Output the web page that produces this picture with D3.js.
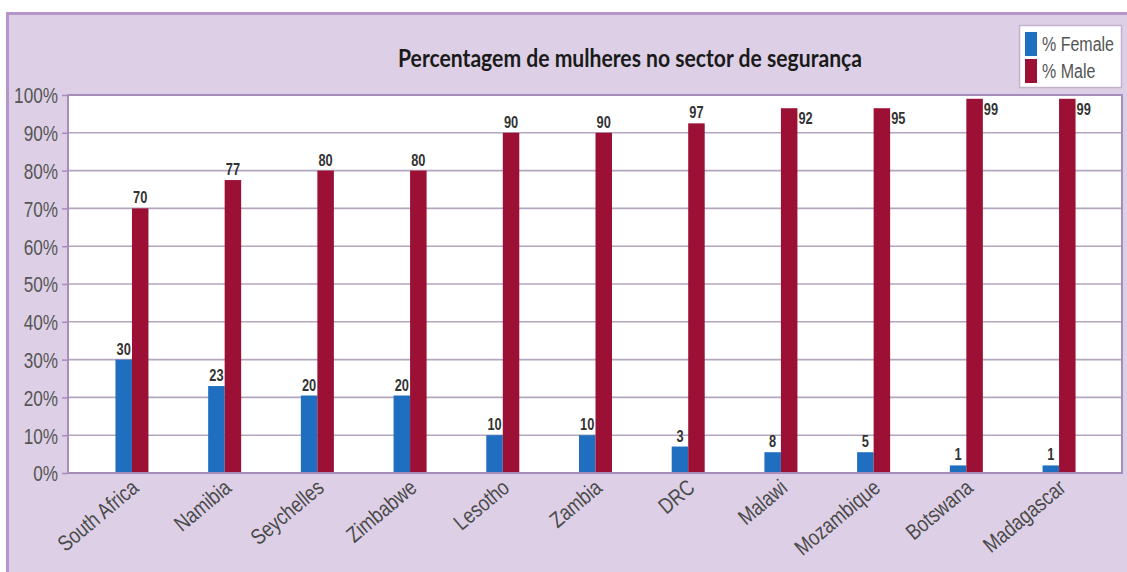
<!DOCTYPE html>
<html>
<head>
<meta charset="utf-8">
<script src="https://cdn.jsdelivr.net/npm/d3@7"></script>
<style>
  html, body { margin: 0; padding: 0; background: #fff; }
  svg { display: block; }
</style>
</head>
<body>
<svg id="chart" width="1127" height="572"></svg>
<script>
const countries = ['South Africa', 'Namibia', 'Seychelles', 'Zimbabwe', 'Lesotho', 'Zambia',
    'DRC', 'Malawi', 'Mozambique', 'Botswana', 'Madagascar'];
// bar heights as drawn in the picture
const femaleValues = [30, 23, 20.5, 20.5, 10, 10, 7, 5.5, 5.5, 2, 2];
const maleValues = [70, 77.5, 80, 80, 90, 90, 92.5, 96.5, 96.5, 99, 99];
// value labels as printed (they do not always match the bars)
const femaleLabels = ['30', '23', '20', '20', '10', '10', '3', '8', '5', '1', '1'];
const maleLabels = ['70', '77', '80', '80', '90', '90', '97', '92', '95', '99', '99'];
const yTicks = [0, 10, 20, 30, 40, 50, 60, 70, 80, 90, 100];
const seriesNames = ['% Female', '% Male'];

const BLUE = '#1f6ebf';
const RED = '#9b1034';
const SANS = '"Liberation Sans", Arial, sans-serif';

// the source picture is squeezed sideways, so narrow the glyphs a bit
function squeeze(sel, k) {
    sel.each(function () {
        const len = this.getComputedTextLength();
        d3.select(this).attr('textLength', len * k).attr('lengthAdjust', 'spacingAndGlyphs');
    });
}

const svg = d3.select('#chart');

// frame
svg.append('rect')
    .attr('x', 7.5).attr('y', 13.5)
    .attr('width', 1140).attr('height', 600)
    .attr('fill', '#ddd0e6')
    .attr('stroke', '#b596c9')
    .attr('stroke-width', 3);

const plot = { left: 68, right: 1122, top: 95, bottom: 473 };

const y = d3.scaleLinear().domain([0, 100]).range([plot.bottom, plot.top]);
const x0 = d3.scaleBand().domain(countries)
    .range([85.6, 1105.4])
    .paddingInner(0.644).paddingOuter(0.322);
const x1 = d3.scaleBand().domain(['female', 'male']).range([0, x0.bandwidth()]);

// plot background
svg.append('rect')
    .attr('x', plot.left).attr('y', plot.top)
    .attr('width', plot.right - plot.left).attr('height', plot.bottom - plot.top)
    .attr('fill', '#ffffff');

// gridlines
svg.append('g').selectAll('line')
    .data(yTicks.filter(t => t > 0 && t < 100))
    .enter().append('line')
    .attr('x1', plot.left).attr('x2', plot.right)
    .attr('y1', d => y(d)).attr('y2', d => y(d))
    .attr('stroke', '#b4a6be')
    .attr('stroke-width', 1.6);

// y axis
const yAxis = svg.append('g')
    .attr('transform', `translate(${plot.left},0)`)
    .call(d3.axisLeft(y).tickValues(yTicks).tickFormat(d => d + '%').tickSize(6).tickPadding(4));
yAxis.select('.domain').remove();
yAxis.selectAll('.tick line').attr('stroke', '#a88dbb').attr('stroke-width', 1.5);
yAxis.selectAll('.tick text')
    .attr('font-family', SANS)
    .attr('font-size', '22px')
    .attr('fill', '#555')
    .attr('dy', '0.36em')
    .call(squeeze, 0.78);

// bars
const groups = svg.append('g').selectAll('g')
    .data(countries)
    .enter().append('g')
    .attr('transform', d => `translate(${x0(d)},0)`);

groups.append('rect')
    .attr('x', x1('female'))
    .attr('width', x1.bandwidth())
    .attr('y', (d, i) => y(femaleValues[i]))
    .attr('height', (d, i) => y(0) - y(femaleValues[i]))
    .attr('fill', BLUE);

groups.append('rect')
    .attr('x', x1('male'))
    .attr('width', x1.bandwidth())
    .attr('y', (d, i) => y(maleValues[i]))
    .attr('height', (d, i) => y(0) - y(maleValues[i]))
    .attr('fill', RED);

// value labels
groups.append('text')
    .attr('x', x1('female') + x1.bandwidth() / 2)
    .attr('y', (d, i) => y(femaleValues[i]) - 5)
    .attr('text-anchor', 'middle')
    .attr('font-family', SANS)
    .attr('font-weight', 'bold')
    .attr('font-size', '16px')
    .attr('fill', '#333')
    .text((d, i) => femaleLabels[i])
    .call(squeeze, 0.8);

groups.append('text')
    .attr('x', (d, i) => maleValues[i] > 95 ? x1('male') + x1.bandwidth() + 1 : x1('male') + x1.bandwidth() / 2)
    .attr('y', (d, i) => maleValues[i] > 95 ? y(maleValues[i]) + 16 : y(maleValues[i]) - 5)
    .attr('text-anchor', (d, i) => maleValues[i] > 95 ? 'start' : 'middle')
    .attr('font-family', SANS)
    .attr('font-weight', 'bold')
    .attr('font-size', '16px')
    .attr('fill', '#333')
    .text((d, i) => maleLabels[i])
    .call(squeeze, 0.8);

// plot border
svg.append('rect')
    .attr('x', plot.left).attr('y', plot.top)
    .attr('width', plot.right - plot.left).attr('height', plot.bottom - plot.top)
    .attr('fill', 'none')
    .attr('stroke', '#a88dbb')
    .attr('stroke-width', 2);

// x labels
svg.append('g').selectAll('text')
    .data(countries)
    .enter().append('text')
    .attr('transform', d => `translate(${x0(d) + x0.bandwidth() / 2 + 8},${plot.bottom + 17}) rotate(-40)`)
    .attr('text-anchor', 'end')
    .attr('font-family', SANS)
    .attr('font-size', '22px')
    .attr('fill', '#4a4a4a')
    .text(d => d)
    .call(squeeze, 0.82);

// title
svg.append('text')
    .attr('x', 398).attr('y', 67)
    .attr('textLength', 464)
    .attr('lengthAdjust', 'spacingAndGlyphs')
    .attr('font-family', 'Lato, "Open Sans", sans-serif')
    .attr('font-weight', 'bold')
    .attr('font-size', '25px')
    .attr('fill', '#1a1a1a')
    .text('Percentagem de mulheres no sector de segurança');

// legend
const legend = svg.append('g');
legend.append('rect')
    .attr('x', 1019.5).attr('y', 25.5)
    .attr('width', 102).attr('height', 62)
    .attr('fill', '#fff')
    .attr('stroke', '#c2b3cc')
    .attr('stroke-width', 1.5);

const legendItems = legend.selectAll('g')
    .data(seriesNames)
    .enter().append('g')
    .attr('transform', (d, i) => `translate(1025,${32 + i * 27})`);
legendItems.append('rect')
    .attr('width', 12).attr('height', 24)
    .attr('fill', (d, i) => i === 0 ? BLUE : RED);
legendItems.append('text')
    .attr('transform', 'translate(17,19) scale(0.8,1)')
    .attr('font-family', SANS)
    .attr('font-size', '20px')
    .attr('fill', '#555')
    .text(d => d);
</script>
</body>
</html>
